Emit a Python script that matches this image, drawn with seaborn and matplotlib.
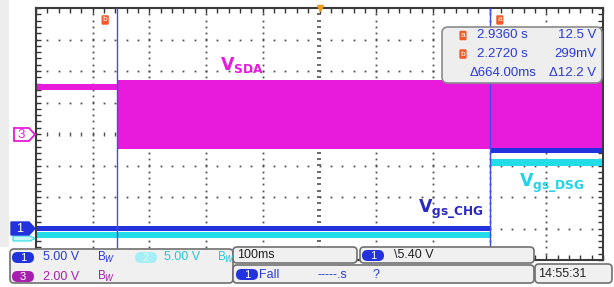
import numpy as np
import pandas as pd
import seaborn as sns
import matplotlib.pyplot as plt
from matplotlib.patches import FancyBboxPatch, Polygon, Rectangle
from matplotlib.ticker import MultipleLocator

# time axis: seconds relative to trigger, 100 ms/div
t_start, t_end = -0.5, 0.5
t_cursor_b = -0.357
t_cursor_a = 0.301

# channel settings: volts per division and ground level (in divisions)
ch_scale = {'SDA': 2.0, 'CHG': 5.0, 'DSG': 5.0}
ch_ground = {'SDA': 0.0, 'CHG': -3.0, 'DSG': -3.3}

# trace envelopes (low, high) in volts, before / after the switching edge
sda_pre = (2.8, 3.2)
sda_post = (-0.95, 3.45)
chg_pre = (-0.4, 0.4)
chg_post = (12.0, 12.8)
dsg_pre = (0.0, 0.95)
dsg_post = (11.4, 12.5)

cursor_text = [('a', '2.9360 s', '12.5 V'), ('b', '2.2720 s', '299mV')]
delta_text = ('\u0394664.00ms', '\u039412.2 V')

col_sda = '#e81adb'
col_chg = '#2233dd'
col_dsg = '#22dde8'

segments = [
    ('SDA', 'pre', t_start, t_cursor_b, sda_pre),
    ('SDA', 'post', t_cursor_b, t_end, sda_post),
    ('DSG', 'pre', t_start, t_cursor_a, dsg_pre),
    ('DSG', 'post', t_cursor_a, t_end, dsg_post),
    ('CHG', 'pre', t_start, t_cursor_a, chg_pre),
    ('CHG', 'post', t_cursor_a, t_end, chg_post),
]
rows = []
for ch, seg, t0, t1, (lo, hi) in segments:
    for t in (t0, t1):
        for v in (lo, hi):
            rows.append({'channel': ch, 'segment': seg, 't': t, 'volts': v})
df = pd.DataFrame(rows)
df['div'] = df['volts'] / df['channel'].map(ch_scale) + df['channel'].map(ch_ground)

sns.set_style('white')
plt.rcParams['font.family'] = ['Liberation Sans', 'DejaVu Sans']
plt.rcParams['mathtext.fontset'] = 'dejavusans'

fig = plt.figure(figsize=(6.14, 2.87), dpi=100)
W, H = 614, 287
ax = fig.add_axes([36 / W, 1 - 260 / H, (603 - 36) / W, 252 / H])

colors = {'SDA': col_sda, 'CHG': col_chg, 'DSG': col_dsg}
for (ch, seg), g in df.groupby(['channel', 'segment'], sort=False):
    sns.lineplot(data=g, x='t', y='div', color=colors[ch], errorbar=('pi', 100),
                 err_kws={'alpha': 1, 'linewidth': 0}, lw=0.5, ax=ax, legend=False)

ax.set_xlim(t_start, t_end)
ax.set_ylim(-4, 4)
ax.set_xlabel('')
ax.set_ylabel('')

# graticule
grid_c = '#505050'
dot_x = np.arange(-0.5, 0.5001, 0.02)
dot_y = np.arange(-4, 4.001, 0.2)
for gy in range(-3, 4):
    if gy == 0:
        ax.plot(dot_x, np.full_like(dot_x, gy), ls='none', marker='|', ms=3.5, mew=1, color=grid_c, zorder=0.5)
    else:
        ax.plot(dot_x, np.full_like(dot_x, gy), ls='none', marker='s', ms=1.3, mew=0, color=grid_c, zorder=0.5)
for gx in np.arange(-0.4, 0.401, 0.1):
    if abs(gx) < 1e-9:
        ax.plot(np.full_like(dot_y, gx), dot_y, ls='none', marker='_', ms=3.5, mew=1.2, color=grid_c, zorder=0.5)
    else:
        ax.plot(np.full_like(dot_y, gx), dot_y, ls='none', marker='s', ms=1.3, mew=0, color=grid_c, zorder=0.5)

ax.xaxis.set_major_locator(MultipleLocator(0.02))
ax.yaxis.set_major_locator(MultipleLocator(0.2))
ax.tick_params(direction='in', length=3.5, width=1, color='#333333',
               top=True, bottom=True, left=True, right=True,
               labelbottom=False, labelleft=False)
for s in ax.spines.values():
    s.set_color('#3a3a3a')
    s.set_linewidth(1.5)

# cursors
for tc in (t_cursor_b, t_cursor_a):
    ax.axvline(tc, color='#3d4fe8', lw=1, zorder=3)
ax.text(t_cursor_b - 0.021, 3.62, 'b', color='white', fontsize=6, ha='center', va='center',
        bbox=dict(boxstyle='round,pad=0.15', fc='#f05a28', ec='none'))
ax.text(t_cursor_a + 0.017, 3.62, 'a', color='white', fontsize=6, ha='center', va='center',
        bbox=dict(boxstyle='round,pad=0.15', fc='#f05a28', ec='none'))
ax.plot([0], [4], marker='v', ms=5, color='#f0a020', clip_on=False, zorder=6)

# overlay in pixel coordinates
ov = fig.add_axes([0, 0, 1, 1], zorder=5)
ov.set_xlim(0, W)
ov.set_ylim(H, 0)
ov.axis('off')

ov.add_patch(Rectangle((0, 0), 9, 247, fc='#ededed', ec='none'))

# trace labels
ov.text(220, 70, r'$\mathbf{V_{SDA}}$', color=col_sda, fontsize=12.5, va='baseline')
ov.text(418, 213, r'$\mathbf{V_{gs\_CHG}}$', color='#2a2ac0', fontsize=12.5, va='baseline')
ov.text(519, 187, r'$\mathbf{V_{gs\_DSG}}$', color='#1ed4e6', fontsize=12.5, va='baseline')

# channel markers on the left
ov.add_patch(Polygon([(14, 128), (29, 128), (35, 134.5), (29, 141), (14, 141)],
                     closed=True, fc='white', ec=col_sda, lw=1.3))
ov.text(21.5, 135, '3', color=col_sda, fontsize=9.5, ha='center', va='center')
ov.add_patch(Polygon([(13, 236), (30, 236), (35, 238.5), (30, 241), (13, 241)],
                     closed=True, fc='#c8f6fa', ec=col_dsg, lw=0.8))
ov.add_patch(Polygon([(11, 222), (29, 222), (35, 228.5), (29, 235), (11, 235)],
                     closed=True, fc=col_chg, ec=col_chg, lw=1))
ov.text(20, 229, '1', color='white', fontsize=9, ha='center', va='center')

# cursor readout box
txt_blue = '#2a3ad8'
ov.add_patch(FancyBboxPatch((442, 27), 160, 56, boxstyle='round,pad=0,rounding_size=6',
                            fc='#eeeeee', ec='#8a8a8a', lw=1.2))
for i, (name, tval, vval) in enumerate(cursor_text):
    yy = 35.5 + i * 18.5
    ov.text(463, yy, name, color='white', fontsize=6, ha='center', va='center',
            bbox=dict(boxstyle='round,pad=0.15', fc='#f05a28', ec='none'))
    ov.text(502, yy, tval, color=txt_blue, fontsize=9.5, va='center', ha='center')
    ov.text(596, yy, vval, color=txt_blue, fontsize=9.5, va='center', ha='right')
ov.text(503, 73, delta_text[0], color=txt_blue, fontsize=9.5, va='center', ha='center')
ov.text(596, 73, delta_text[1], color=txt_blue, fontsize=9.5, va='center', ha='right')


def panel(x, y, w, h):
    ov.add_patch(FancyBboxPatch((x, y), w, h, boxstyle='round,pad=0,rounding_size=4',
                                fc='#f0f0f0', ec='#707070', lw=1.2))


def pill(x, y, label, fc, tc='white'):
    ov.add_patch(FancyBboxPatch((x, y), 22, 11, boxstyle='round,pad=0,rounding_size=5.5',
                                fc=fc, ec='none'))
    ov.text(x + 11, y + 5.8, label, color=tc, fontsize=8, ha='center', va='center')


col_ch3 = '#a81fb0'
panel(10, 249, 223, 34)
panel(233, 247, 124, 16)
panel(360, 247, 174, 16)
panel(233, 265, 301, 18)
panel(535, 264, 77, 19)

pill(12, 252, '1', col_chg)
ov.text(43, 257.5, '5.00 V', color=txt_blue, fontsize=9, va='center')
ov.text(97, 257.5, r'B$_W$', color=txt_blue, fontsize=8.5, va='center')
pill(135, 252, '2', '#a6eef6', '#d8fafc')
ov.text(164, 257.5, '5.00 V', color='#22c8dd', fontsize=9, va='center')
ov.text(217, 257.5, r'B$_W$', color='#22c8dd', fontsize=8.5, va='center')
pill(12, 271, '3', col_ch3)
ov.text(43, 276.5, '2.00 V', color=col_ch3, fontsize=9, va='center')
ov.text(97, 276.5, r'B$_W$', color=col_ch3, fontsize=8.5, va='center')

ov.text(237, 255.5, '100ms', color='#222222', fontsize=9, va='center')
pill(362, 250, '1', col_chg)
ov.text(394, 255.5, '\\5.40 V', color='#222222', fontsize=9, va='center')
pill(236, 269, '1', col_chg)
ov.text(259, 274.5, 'Fall', color=txt_blue, fontsize=9, va='center')
ov.text(317, 274.5, '-----.s', color=txt_blue, fontsize=9, va='center')
ov.text(373, 274.5, '?', color=txt_blue, fontsize=9, va='center')
ov.text(538, 274, '14:55:31', color='#222222', fontsize=9, va='center')

fig.savefig('out.png', dpi=100)
